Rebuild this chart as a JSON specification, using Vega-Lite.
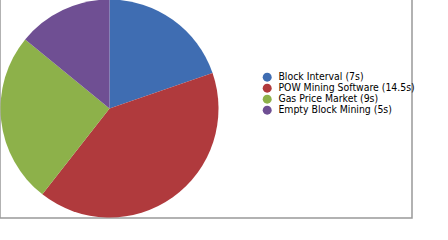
{
  "$schema": "https://vega.github.io/schema/vega-lite/v6.json",
  "width": 412,
  "height": 219,
  "autosize": {"type": "none"},
  "padding": {"left": 0, "top": -1, "right": 36, "bottom": 22},
  "background": "white",
  "view": {"stroke": "#999999", "strokeWidth": 1.5, "fill": "white"},
  "data": {
    "values": [
      {"k": 1, "segment": "Block Interval (7s)", "seconds": 7},
      {"k": 2, "segment": "POW Mining Software (14.5s)", "seconds": 14.5},
      {"k": 3, "segment": "Gas Price Market (9s)", "seconds": 9},
      {"k": 4, "segment": "Empty Block Mining (5s)", "seconds": 5}
    ]
  },
  "mark": {
    "type": "arc",
    "x": {"expr": "height/2"},
    "y": {"expr": "height/2"},
    "outerRadius": {"expr": "height/2 - 0.5"}
  },
  "encoding": {
    "theta": {"field": "seconds", "type": "quantitative", "stack": true},
    "order": {"field": "k", "type": "quantitative"},
    "color": {
      "field": "segment",
      "type": "nominal",
      "sort": null,
      "scale": {
        "domain": ["Block Interval (7s)", "POW Mining Software (14.5s)", "Gas Price Market (9s)", "Empty Block Mining (5s)"],
        "range": ["#3f6db2", "#b03a3d", "#8db14a", "#6f4f93"]
      },
      "legend": {
        "title": null,
        "orient": "none",
        "legendX": 262,
        "legendY": 73,
        "symbolType": "circle",
        "symbolSize": 80,
        "symbolStrokeWidth": 0,
        "rowPadding": -1,
        "labelFont": "DejaVu Sans Condensed",
        "labelFontSize": 10.4,
        "labelLimit": 300,
        "labelColor": "#000000",
        "labelOffset": 6
      }
    }
  }
}
